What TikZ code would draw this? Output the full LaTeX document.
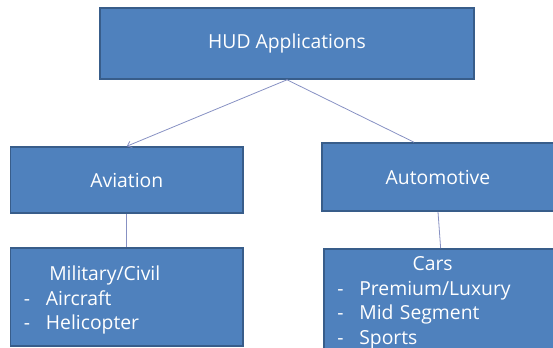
\documentclass[tikz,border=0pt]{standalone}
\usepackage{fontspec}
\setmainfont{Open Sans}
\usetikzlibrary{arrows.meta}

\definecolor{boxfill}{RGB}{79,129,189}
\definecolor{boxline}{RGB}{56,93,138}
\definecolor{linkline}{RGB}{135,145,195}

\tikzset{every picture/.style={line width=0.75pt}}
\tikzset{
  hudbox/.style={draw=boxline, line width=1.2pt, fill=boxfill, text=white,
    font=\fontsize{14.5}{18.4}\selectfont, inner sep=0pt},
  listbox/.style={hudbox, align=left, text width=160pt, inner xsep=10pt},
  link/.style={draw=linkline, line width=0.6pt},
}
\newcommand{\listdash}[1]{\makebox[16.5pt][l]{-}#1}

\begin{document}
\begin{tikzpicture}[x=0.75pt,y=0.75pt,yscale=-1,xscale=1]
\clip (0,0) rectangle (553,347);
\path[use as bounding box] (0,0) rectangle (553,347);

%Shape: Rectangle
\node[hudbox, minimum width=280.5pt, minimum height=53.25pt] (hud) at (287,43.5) {HUD Applications};
%Shape: Rectangle
\node[hudbox, minimum width=174.3pt, minimum height=49.5pt] (aviation) at (126.8,180) {Aviation};
%Shape: Rectangle
\node[hudbox, minimum width=174pt, minimum height=51pt] (automotive) at (438,177) {Automotive};
%Shape: Rectangle
\node[listbox, minimum width=174.3pt, minimum height=73.5pt, text width=154.3pt] (military) at (126.8,297) {%
\rule{0pt}{15.5pt}\hspace*{19pt}Military/Civil\\
\listdash{Aircraft}\\
\listdash{Helicopter}};
%Shape: Rectangle
\node[listbox, minimum width=176pt, minimum height=75.75pt, text width=156pt] (cars) at (441.3,299.5) {%
\rule{0pt}{15.5pt}\hspace*{56.5pt}Cars\\
\listdash{Premium/Luxury}\\
\listdash{Mid Segment}\\
\listdash{Sports}};

%Straight Lines
\draw[link, -{Straight Barb[length=3pt, width=5pt]}] (hud.south) -- (aviation.north);
%Straight Lines
\draw[link] (hud.south) -- ([xshift=-18pt]automotive.north);
%Straight Lines
\draw[link] (aviation.south) -- (military.north);
%Straight Lines
\draw[link] (automotive.south) -- ([xshift=-0.5pt]cars.north);

\end{tikzpicture}
\end{document}
